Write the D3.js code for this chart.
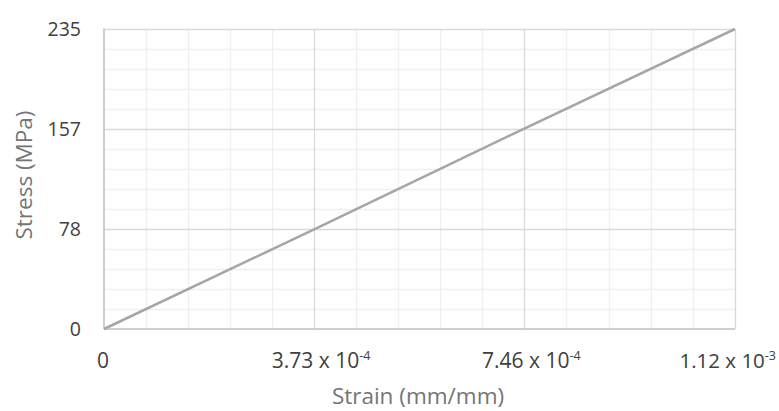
<!DOCTYPE html>
<html><head><meta charset="utf-8">
<script src="https://cdn.jsdelivr.net/npm/d3@7"></script>
<style>
body{margin:0;background:#fff;}
text{font-family:"Open Sans","Noto Sans",sans-serif;}
</style></head>
<body>
<svg id="c" width="779" height="411"></svg>
<script>
const strain = [0, 3.73e-4, 7.46e-4, 1.12e-3];
const stress = [0, 78, 157, 235];
const xTicks = [0, 3.73e-4, 7.46e-4, 1.12e-3];
const xTickMant = ["0", "3.73 x 10", "7.46 x 10", "1.12 x 10"];
const xTickExp = ["", "-4", "-4", "-3"];
const yTicks = [0, 78, 157, 235];
const minorPerMajor = 5;

const svg = d3.select("#c");
const m = {l:104, r:44, t:29, b:82};
const W = 779, H = 411;
const x = d3.scaleLinear().domain([0, 1.12e-3]).range([m.l, W - m.r]);
const y = d3.scaleLinear().domain([0, 235]).range([H - m.b, m.t]);

// minor gridlines
const g = svg.append("g");
const xMinor = [], yMinor = [];
for (let i = 0; i < xTicks.length - 1; i++)
  for (let k = 1; k < minorPerMajor; k++) xMinor.push(xTicks[i] + (xTicks[i+1]-xTicks[i])*k/minorPerMajor);
for (let i = 0; i < yTicks.length - 1; i++)
  for (let k = 1; k < minorPerMajor; k++) yMinor.push(yTicks[i] + (yTicks[i+1]-yTicks[i])*k/minorPerMajor);

g.selectAll(".vm").data(xMinor).join("line")
  .attr("x1", d=>Math.round(x(d))+0.5).attr("x2", d=>Math.round(x(d))+0.5)
  .attr("y1", y(235)).attr("y2", y(0)).attr("stroke", "#efefef").attr("stroke-width", 1.3);
g.selectAll(".hm").data(yMinor).join("line")
  .attr("y1", d=>Math.round(y(d))+0.5).attr("y2", d=>Math.round(y(d))+0.5)
  .attr("x1", x(0)).attr("x2", x(1.12e-3)).attr("stroke", "#efefef").attr("stroke-width", 1.3);
// major
g.selectAll(".vM").data(xTicks.slice(1)).join("line")
  .attr("x1", d=>Math.round(x(d))+0.5).attr("x2", d=>Math.round(x(d))+0.5)
  .attr("y1", y(235)).attr("y2", y(0)).attr("stroke", "#d9d9d9").attr("stroke-width", 1.3);
g.selectAll(".hM").data(yTicks.slice(1)).join("line")
  .attr("y1", d=>Math.round(y(d))+0.5).attr("y2", d=>Math.round(y(d))+0.5)
  .attr("x1", x(0)).attr("x2", x(1.12e-3)).attr("stroke", "#d9d9d9").attr("stroke-width", 1.3);

// axes lines
svg.append("line").attr("x1", x(0)).attr("x2", x(0)).attr("y1", y(235)-0.5).attr("y2", y(0))
  .attr("stroke", "#bfbfbf").attr("stroke-width", 1.5);
svg.append("line").attr("x1", x(0)).attr("x2", x(1.12e-3)).attr("y1", y(0)).attr("y2", y(0))
  .attr("stroke", "#bfbfbf").attr("stroke-width", 1.5);

// data line
const line = d3.line().x(d=>x(d[0])).y(d=>y(d[1]));
svg.append("path").datum(strain.map((s,i)=>[s, stress[i]]))
  .attr("d", line).attr("fill", "none").attr("stroke", "#a6a6a6").attr("stroke-width", 2.5);

// y tick labels
svg.selectAll(".yl").data(yTicks).join("text")
  .attr("x", 81).attr("y", d=>y(d)).attr("dy", "0.36em")
  .attr("text-anchor", "end").attr("fill", "#404040").attr("font-size", 19.5).text(d=>d);

// x tick labels
const last = xTicks.length - 1;
const xl = svg.selectAll(".xl").data(xTicks).join("text")
  .attr("x", (d,i)=> i===0 ? x(d)-1 : (i===last ? W - 3 : x(d)+7)).attr("y", 368)
  .attr("text-anchor", (d,i)=> i===last ? "end" : "middle")
  .attr("fill", "#404040").attr("font-size", (d,i)=> i===last ? 20.5 : 21);
xl.append("tspan").text((d,i)=>xTickMant[i]);
xl.append("tspan").attr("dy", -8).attr("font-size", 12.5).text((d,i)=>xTickExp[i]);

// titles
svg.append("text").attr("x", 418).attr("y", 404).attr("text-anchor", "middle")
  .attr("fill", "#757575").attr("font-size", 22.5).text("Strain (mm/mm)");
svg.append("text").attr("transform", "translate(32,175) rotate(-90)").attr("text-anchor", "middle")
  .attr("fill", "#757575").attr("font-size", 22.5).text("Stress (MPa)");
</script>
</body></html>
